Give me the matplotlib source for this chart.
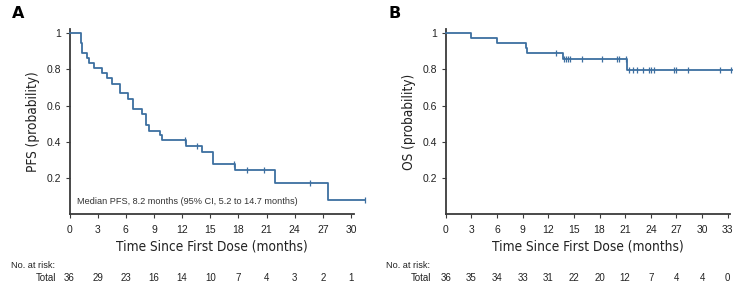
import matplotlib
matplotlib.use('Agg')
import matplotlib.pyplot as plt
from matplotlib import font_manager

LINE = '#3d6fa0'
SPINE = '#3a3a3a'

# PFS (panel A) step curve: event times (months) and survival after each step
pfs_times = [0, 1.2, 1.3, 1.83, 2.05, 2.64, 3.5, 4.0, 4.5, 5.42, 6.2, 6.77, 7.73,
             8.2, 8.45, 9.65, 9.9, 12.39, 14.16, 15.33, 17.64, 21.94, 27.53]
pfs_surv = [1.0, 0.944, 0.889, 0.861, 0.833, 0.806, 0.778, 0.75, 0.722, 0.667, 0.639,
            0.583, 0.556, 0.49, 0.461, 0.435, 0.407, 0.379, 0.342, 0.278, 0.242,
            0.174, 0.078]
pfs_end = 31.5
pfs_censor = [12.3, 13.6, 17.53, 18.96, 20.77, 25.64, 31.5]
pfs_risk = [36, 29, 23, 16, 14, 10, 7, 4, 3, 2, 1]
pfs_ticks = [0, 3, 6, 9, 12, 15, 18, 21, 24, 27, 30]

# OS (panel B)
os_times = [0, 2.96, 6.04, 9.4, 9.5, 13.76, 21.25]
os_surv = [1.0, 0.972, 0.944, 0.917, 0.889, 0.858, 0.797]
os_end = 33.5
os_censor = [12.9, 13.85, 14.1, 14.3, 14.55, 15.9, 18.26, 20.0, 20.3, 21.1,
             21.5, 21.95, 22.4, 23.05, 23.8, 24.0, 24.4, 26.7, 27.0, 28.4, 32.1, 33.35]
os_risk = [36, 35, 34, 33, 31, 22, 20, 12, 7, 4, 4, 0]
os_ticks = [0, 3, 6, 9, 12, 15, 18, 21, 24, 27, 30, 33]

yticks = [0.2, 0.4, 0.6, 0.8, 1.0]
yticklabels = ['0.2', '0.4', '0.6', '0.8', '1']

# condensed font for axis labels if available
names = {f.name for f in font_manager.fontManager.ttflist}
COND = ['Liberation Sans Narrow', 'DejaVu Sans'] if 'Liberation Sans Narrow' in names else ['DejaVu Sans']
COND_STRETCH = 'normal' if COND[0] == 'Liberation Sans Narrow' else 'condensed'
plt.rcParams['font.family'] = ['Liberation Sans', 'DejaVu Sans']

W, H = 742, 293
fig = plt.figure(figsize=(W / 100, H / 100), dpi=100)


def surv_at(times, surv, t):
    s = surv[0]
    for tt, ss in zip(times, surv):
        if tt <= t:
            s = ss
    return s


def panel(left_px, right_px, xmax, times, surv, end, censor, ticks, risk, ylabel):
    top_px, bot_px = 29.3, 214
    ax = fig.add_axes([left_px / W, 1 - bot_px / H, (right_px - left_px) / W, (bot_px - top_px) / H])
    xs = list(times) + [end]
    ys = list(surv) + [surv[-1]]
    ax.step(xs, ys, where='post', color=LINE, lw=1.3, clip_on=False, zorder=3)
    cy = [surv_at(times, surv, c) for c in censor]
    ax.plot(censor, cy, ls='none', marker='|', ms=4, mew=0.9, color=LINE, clip_on=False, zorder=3)
    ax.set_xlim(0, xmax)
    ax.set_ylim(0, 1.022)
    ax.set_xticks(ticks)
    ax.set_yticks(yticks)
    ax.set_yticklabels(yticklabels)
    for s in ['top', 'right']:
        ax.spines[s].set_visible(False)
    for s in ['left', 'bottom']:
        ax.spines[s].set_color(SPINE)
        ax.spines[s].set_linewidth(1.3)
    ax.tick_params(length=3, width=0.8, color=SPINE, labelsize=7.5, labelcolor='#222222')
    ax.tick_params(axis='x', pad=5)
    ax.tick_params(axis='y', pad=3)
    ax.set_xlabel('Time Since First Dose (months)', family=COND, stretch=COND_STRETCH,
                  fontsize=9.8, color='#222222', labelpad=3)
    ax.set_ylabel(ylabel, family=COND, stretch=COND_STRETCH, fontsize=9.8,
                  color='#222222', labelpad=5)
    tr = ax.get_xaxis_transform()
    for t, n in zip(ticks, risk):
        ax.text(t, -0.347, str(n), transform=tr, ha='center', va='center',
                fontsize=7, color='#222222', clip_on=False)
    return ax


axA = panel(69.5, 354.3, 30.35, pfs_times, pfs_surv, pfs_end, pfs_censor,
            pfs_ticks, pfs_risk, 'PFS (probability)')
axA.text(0.028, 0.065, 'Median PFS, 8.2 months (95% CI, 5.2 to 14.7 months)',
         transform=axA.transAxes, fontsize=6.6, color='#333333', va='center')
axB = panel(445.7, 730, 33.27, os_times, os_surv, os_end, os_censor,
            os_ticks, os_risk, 'OS (probability)')

for x, label in [(12, 'A'), (388, 'B')]:
    fig.text(x / W, 1 - 14 / H, label, fontsize=11.5, fontweight='bold', va='center',
             family='DejaVu Sans')
for x_left, x_total in [(11, 55.7), (386, 431)]:
    fig.text(x_left / W, 1 - 265 / H, 'No. at risk:', fontsize=6.6, color='#222222', va='center')
    fig.text(x_total / W, 1 - 278 / H, 'Total', fontsize=7, color='#222222',
             va='center', ha='right')

fig.savefig('out.png', dpi=100)
